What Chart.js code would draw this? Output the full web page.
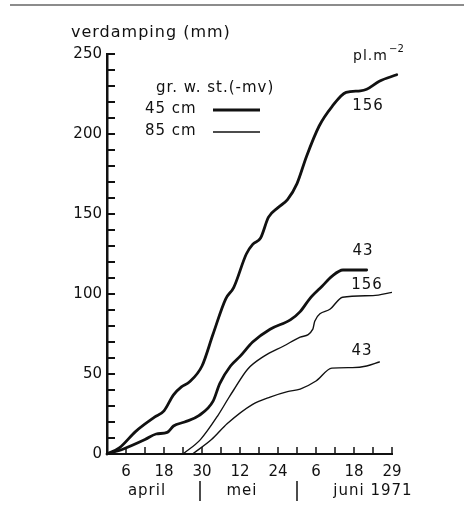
<!DOCTYPE html>
<html lang="nl">
  <head>
    <meta charset="UTF-8" />
    <title>Verdamping 1971</title>
    <script src="https://cdn.jsdelivr.net/npm/chart.js"></script>
    <style>
      body { margin: 0; background: #fff; }
      canvas { display: block; }
    </style>
  </head>
  <body>
    <canvas id="chart" width="464" height="522"></canvas>

    <script>
      // dagen na 31 maart, en cumulatieve verdamping (mm)
      const dagen45_156 = [0, 4, 9, 15, 18, 21, 23.5, 26, 30, 33.5, 37.5, 40, 44, 46, 48.5, 51, 54, 57, 60, 63, 67, 71, 75.5, 80, 82, 86, 91.5];
      const verd45_156 = [0, 4, 14, 23, 27, 37, 42, 45, 55, 75, 97, 104, 125, 131, 135, 148, 154, 159, 169, 186, 205, 217, 226, 227, 228, 233, 237];

      const dagen45_43 = [0, 5, 12, 15.5, 19, 21, 24.5, 29, 33.5, 35.6, 39, 42, 46, 51.5, 58, 61, 64, 68, 71, 74.5, 82];
      const verd45_43 = [0, 3, 9, 12.5, 13.5, 17.5, 20, 24, 33, 44, 55, 61, 70, 78, 84, 89, 97, 105, 111, 115, 115];

      const dagen85_156 = [24, 29.5, 35, 38.4, 40, 44.4, 49.5, 55.8, 61, 65, 65.6, 70.5, 74.4, 84, 90];
      const verd85_156 = [0, 9, 24, 35, 40, 53, 61, 67.5, 73, 78, 83, 90.6, 98, 99, 101];

      const dagen85_43 = [27, 33, 38, 46, 51.5, 57, 61, 66, 71, 77.5, 82, 86];
      const verd85_43 = [0, 9, 19, 31, 35.6, 39, 40.6, 45.6, 53.7, 54, 55, 57.5];

      // tick labels op de x-as (elke 12 dagen)
      const xLabels = { 6: "6", 18: "18", 30: "30", 42: "12", 54: "24", 66: "6", 78: "18", 90: "29" };

      const FONT = "DejaVu Sans";
      const INK = "#111";

      function pts(xs, ys) {
        return xs.map((x, i) => ({ x: x, y: ys[i] }));
      }

      const extras = {
        id: "extras",
        afterDraw(chart) {
          const ctx = chart.ctx;
          const a = chart.chartArea;
          const sx = chart.scales.x;
          const sy = chart.scales.y;
          ctx.save();
          ctx.strokeStyle = INK;
          ctx.fillStyle = INK;

          // kader bovenaan
          ctx.strokeStyle = "#666";
          ctx.lineWidth = 1.5;
          ctx.beginPath();
          ctx.moveTo(10, 5);
          ctx.lineTo(464, 5);
          ctx.stroke();
          ctx.strokeStyle = INK;

          // streepjes op de y-as, naar binnen
          ctx.lineWidth = 2;
          for (let v = 10; v <= 250; v += 10) {
            const y = sy.getPixelForValue(v);
            ctx.beginPath();
            ctx.moveTo(a.left, y);
            ctx.lineTo(a.left + 8, y);
            ctx.stroke();
          }
          // streepjes op de x-as, naar boven
          ctx.lineWidth = 1.5;
          for (let d = 6; d <= 90; d += 6) {
            const x = sx.getPixelForValue(d);
            ctx.beginPath();
            ctx.moveTo(x, a.bottom);
            ctx.lineTo(x, a.bottom - 7);
            ctx.stroke();
          }

          ctx.letterSpacing = "1px";
          ctx.textBaseline = "middle";

          // as-titel
          ctx.font = "16px '" + FONT + "'";
          ctx.textAlign = "left";
          ctx.fillText("verdamping (mm)", 71, 33);

          // pl.m-2
          ctx.font = "14px '" + FONT + "'";
          ctx.fillText("pl.m", 353, 56);
          ctx.font = "10px '" + FONT + "'";
          ctx.letterSpacing = "0px";
          ctx.fillText("\u22122", 389, 49);
          ctx.letterSpacing = "1px";

          // legenda
          ctx.font = "15px '" + FONT + "'";
          ctx.fillText("gr. w. st.(-mv)", 156, 88);
          ctx.fillText("45 cm", 145, 109);
          ctx.fillText("85 cm", 145, 131);
          ctx.lineWidth = 2.8;
          ctx.beginPath();
          ctx.moveTo(213, 110);
          ctx.lineTo(260, 110);
          ctx.stroke();
          ctx.lineWidth = 1.4;
          ctx.beginPath();
          ctx.moveTo(213, 132);
          ctx.lineTo(260, 132);
          ctx.stroke();

          // labels bij de lijnen
          ctx.textAlign = "center";
          ctx.fillText("156", 368, 106);
          ctx.fillText("43", 363, 251);
          ctx.fillText("156", 367, 285);
          ctx.fillText("43", 362, 351);

          // maanden
          ctx.fillText("april", 147, 491);
          ctx.fillText("mei", 242, 491);
          ctx.fillText("juni 1971", 373, 491);
          ctx.lineWidth = 1.5;
          [200, 297].forEach((x) => {
            ctx.beginPath();
            ctx.moveTo(x, 481);
            ctx.lineTo(x, 501);
            ctx.stroke();
          });
          ctx.restore();
        },
      };

      new Chart(document.getElementById("chart"), {
        type: "line",
        data: {
          datasets: [
            { data: pts(dagen45_156, verd45_156), borderWidth: 2.8, clip: false },
            { data: pts(dagen45_43, verd45_43), borderWidth: 2.8 },
            { data: pts(dagen85_156, verd85_156), borderWidth: 1.4 },
            { data: pts(dagen85_43, verd85_43), borderWidth: 1.4 },
          ],
        },
        options: {
          responsive: false,
          animation: false,
          devicePixelRatio: 1,
          layout: { padding: { left: 0, top: 54, right: 72, bottom: 0 } },
          elements: {
            point: { radius: 0 },
            line: { borderColor: INK, cubicInterpolationMode: "monotone", borderCapStyle: "round", borderJoinStyle: "round" },
          },
          plugins: { legend: { display: false }, tooltip: { enabled: false } },
          scales: {
            x: {
              type: "linear",
              min: 0,
              max: 90,
              afterFit: (s) => { s.height = 68; },
              grid: { display: false, drawTicks: false },
              border: { display: true, color: INK, width: 2 },
              ticks: {
                stepSize: 6,
                autoSkip: false,
                maxRotation: 0,
                padding: 9,
                color: INK,
                font: { family: FONT, size: 15 },
                callback: (v) => xLabels[v] || "",
              },
            },
            y: {
              min: 0,
              max: 250,
              afterFit: (s) => { s.width = 107; },
              grid: { display: false, drawTicks: false },
              border: { display: true, color: INK, width: 2.5 },
              ticks: {
                stepSize: 50,
                padding: 5,
                color: INK,
                font: { family: FONT, size: 15 },
              },
            },
          },
        },
        plugins: [extras],
      });
    </script>
  </body>
</html>
